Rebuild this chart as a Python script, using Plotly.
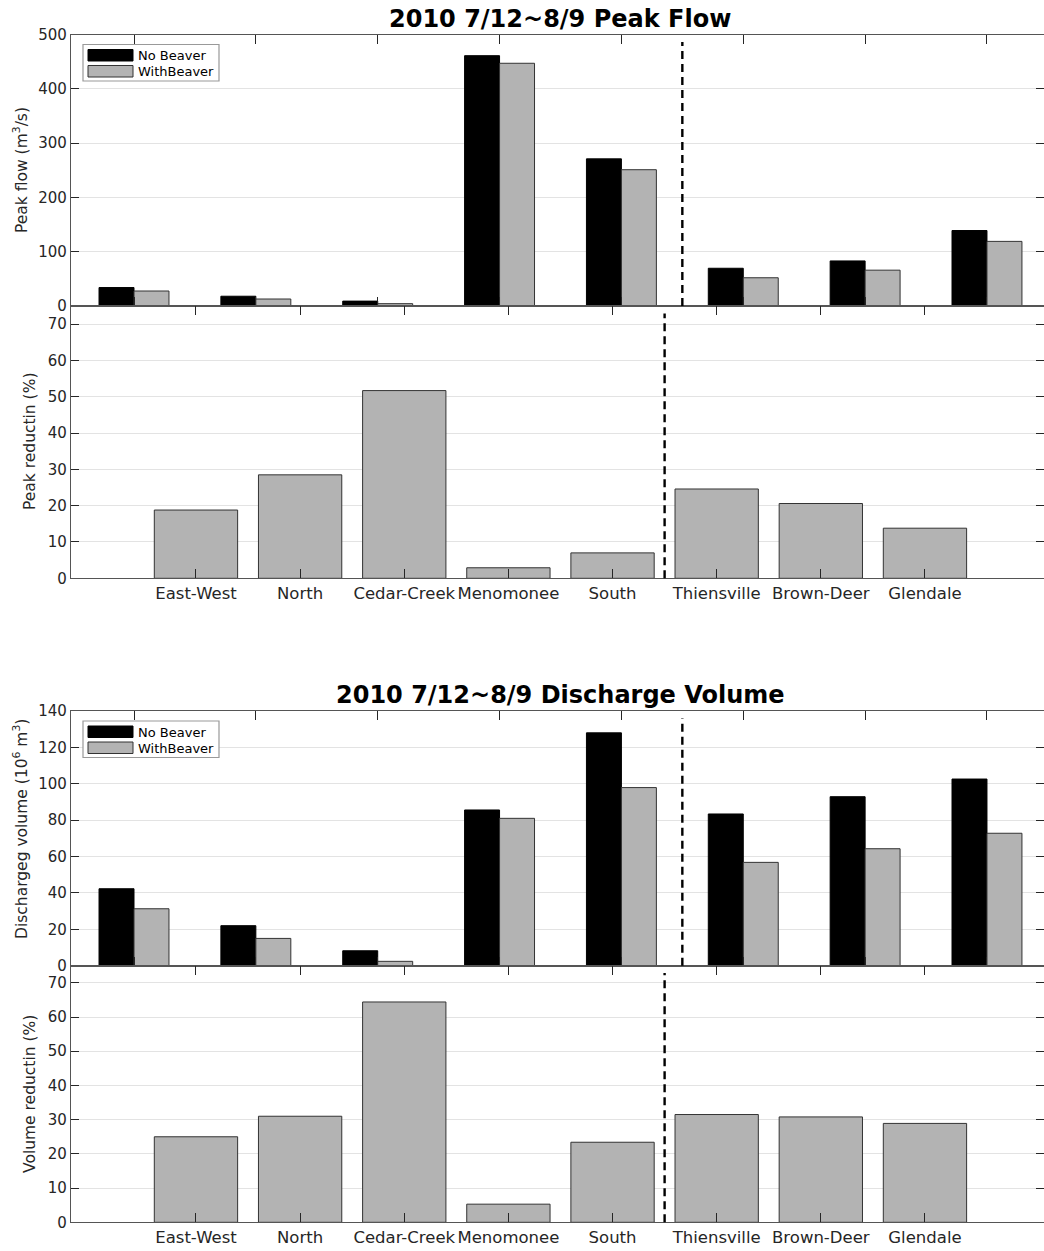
import plotly.graph_objects as go

# Sub-basins (left of the dashed divider) and downstream gauges (right of it)
sites = ["East-West", "North", "Cedar-Creek", "Menomonee", "South",
         "Thiensville", "Brown-Deer", "Glendale"]

# 2010 7/12~8/9 peak flow (m^3/s)
peak_no_beaver = [34, 18, 9, 461, 271, 69.5, 83, 139]
peak_with_beaver = [27.6, 12.9, 4.3, 447, 251, 52, 66, 119]
peak_reduction = [18.8, 28.5, 51.7, 2.9, 7.0, 24.6, 20.6, 13.8]

# 2010 7/12~8/9 discharge volume (10^6 m^3)
vol_no_beaver = [42.3, 22, 8.2, 85.6, 128, 83.4, 92.9, 102.6]
vol_with_beaver = [31.3, 15, 2.4, 81, 97.9, 56.8, 64.3, 72.8]
vol_reduction = [25.0, 31.0, 64.4, 5.3, 23.4, 31.5, 30.8, 28.9]

peak_ticks = [0, 100, 200, 300, 400, 500]
vol_ticks = [0, 20, 40, 60, 80, 100, 120, 140]
pct_ticks = [0, 10, 20, 30, 40, 50, 60, 70]

series_names = ["No Beaver", "WithBeaver"]

W, H = 1044, 1251
LEFT = 71
FONT = "DejaVu Sans"
BLACK = "#000000"
GRAY = "#b3b3b3"
AXIS = "#555555"
GRID = "#e3e3e3"
TXT = "#262626"

pos = list(range(1, len(sites) + 1))
split_x = sites.index("Thiensville") + 0.5   # between South and Thiensville

# panel vertical extents in pixels (top, bottom)
panels = {
    "A": (34.5, 306.0),
    "B": (306.0, 578.3),
    "C": (711.0, 965.7),
    "D": (965.7, 1222.3),
}


def ydom(key):
    top, bot = panels[key]
    return [1 - bot / H, 1 - top / H]


def px_x(px):
    return (px - LEFT) / (W - LEFT)


def px_y(py):
    return 1 - py / H


fig = go.Figure()

grp_w = 0.287
for xa, ya, no_b, with_b in [("x", "y", peak_no_beaver, peak_with_beaver),
                             ("x3", "y3", vol_no_beaver, vol_with_beaver)]:
    fig.add_trace(go.Bar(x=pos, y=no_b, xaxis=xa, yaxis=ya, name=series_names[0],
                         width=grp_w, offset=-grp_w,
                         marker=dict(color=BLACK, line=dict(color=BLACK, width=1)),
                         showlegend=False))
    fig.add_trace(go.Bar(x=pos, y=with_b, xaxis=xa, yaxis=ya, name=series_names[1],
                         width=grp_w, offset=0,
                         marker=dict(color=GRAY, line=dict(color="#333333", width=1)),
                         showlegend=False))

for xa, ya, red in [("x2", "y2", peak_reduction), ("x4", "y4", vol_reduction)]:
    fig.add_trace(go.Bar(x=pos, y=red, xaxis=xa, yaxis=ya, name="reduction",
                         width=0.8, offset=-0.4,
                         marker=dict(color=GRAY, line=dict(color="#333333", width=1)),
                         showlegend=False))

common_x = dict(domain=[0, 1], tickvals=pos, ticks="inside", ticklen=9,
                tickcolor=TXT, tickwidth=1, mirror="ticks", showline=True,
                linecolor=AXIS, linewidth=1.2, showgrid=False, zeroline=False,
                tickangle=0,
                tickfont=dict(family=FONT, size=16.5, color=TXT))
common_y = dict(ticks="inside", ticklen=8, tickcolor=TXT, tickwidth=1,
                mirror="ticks", showline=True, linecolor=AXIS, linewidth=1.2,
                showgrid=True, gridcolor=GRID, gridwidth=1, zeroline=False,
                tickfont=dict(family=FONT, size=15, color=TXT))

group_range = [0.483, 8.468]
single_range = [-0.2, 9.143]

fig.update_layout(
    xaxis=dict(common_x, range=group_range, anchor="y", showticklabels=False),
    yaxis=dict(common_y, domain=ydom("A"), range=[0, 500], tickvals=peak_ticks, anchor="x"),
    xaxis2=dict(common_x, range=single_range, anchor="y2", ticktext=sites),
    yaxis2=dict(common_y, domain=ydom("B"), range=[0, 75], tickvals=pct_ticks, anchor="x2"),
    xaxis3=dict(common_x, range=group_range, anchor="y3", showticklabels=False),
    yaxis3=dict(common_y, domain=ydom("C"), range=[0, 140], tickvals=vol_ticks, anchor="x3"),
    xaxis4=dict(common_x, range=single_range, anchor="y4", ticktext=sites),
    yaxis4=dict(common_y, domain=ydom("D"), range=[0, 75], tickvals=pct_ticks, anchor="x4"),
)

shapes = []
annotations = []

# dashed dividers
for xa, ya in [("x", "y"), ("x2", "y2"), ("x3", "y3"), ("x4", "y4")]:
    shapes.append(dict(type="line", xref=xa, yref=ya + " domain",
                       x0=split_x, x1=split_x, y0=0, y1=0.972,
                       line=dict(color=BLACK, width=2.4, dash="8px,5px"), layer="above"))


# legend boxes drawn inside the flow / volume panels
def add_legend(key, xa, ya):
    top, bot = panels[key]
    h = bot - top
    dw = W - LEFT

    def dx(p):
        return (p - LEFT) / dw

    def dy(p):
        return (bot - p) / h

    bt = top + 10
    shapes.append(dict(type="rect", xref=xa + " domain", yref=ya + " domain",
                       x0=dx(83), x1=dx(219), y0=dy(bt + 36.5), y1=dy(bt),
                       line=dict(color="#999999", width=1.2), fillcolor="white",
                       layer="above"))
    colors = [BLACK, GRAY]
    edges = [BLACK, "#333333"]
    for i, name in enumerate(series_names):
        t0 = bt + 5 + i * 16
        shapes.append(dict(type="rect", xref=xa + " domain", yref=ya + " domain",
                           x0=dx(88), x1=dx(133), y0=dy(t0 + 11.5), y1=dy(t0),
                           line=dict(color=edges[i], width=1), fillcolor=colors[i],
                           layer="above"))
        annotations.append(dict(xref=xa + " domain", yref=ya + " domain",
                                x=dx(136), y=dy(t0 + 6), text=name, showarrow=False,
                                xanchor="left", yanchor="middle",
                                font=dict(family=FONT, size=13, color=BLACK)))


add_legend("A", "x", "y")
add_legend("C", "x3", "y3")

# figure titles
for text, cy in [("2010 7/12~8/9 Peak Flow", 18.5),
                 ("2010 7/12~8/9 Discharge Volume", 695)]:
    annotations.append(dict(xref="paper", yref="paper", x=px_x(560), y=px_y(cy),
                            text="<b>" + text + "</b>", showarrow=False,
                            xanchor="center", yanchor="middle",
                            font=dict(family=FONT, size=24, color=BLACK)))

# y-axis titles
for text, cx, cy in [("Peak flow (m<sup>3</sup>/s)", 21, 170),
                     ("Peak reductin (%)", 30, 442),
                     ("Dischargeg volume (10<sup>6</sup> m<sup>3</sup>)", 21, 829),
                     ("Volume reductin (%)", 30, 1094)]:
    annotations.append(dict(xref="paper", yref="paper", x=px_x(cx), y=px_y(cy),
                            text=text, showarrow=False, textangle=-90,
                            xanchor="center", yanchor="middle",
                            font=dict(family=FONT, size=15.5, color=TXT)))

fig.update_layout(
    width=W, height=H,
    margin=dict(l=LEFT, r=0, t=0, b=0, autoexpand=False),
    barmode="overlay",
    paper_bgcolor="white", plot_bgcolor="white",
    showlegend=False,
    shapes=shapes, annotations=annotations,
    font=dict(family=FONT, color=TXT),
)

fig.write_html("out.html")
